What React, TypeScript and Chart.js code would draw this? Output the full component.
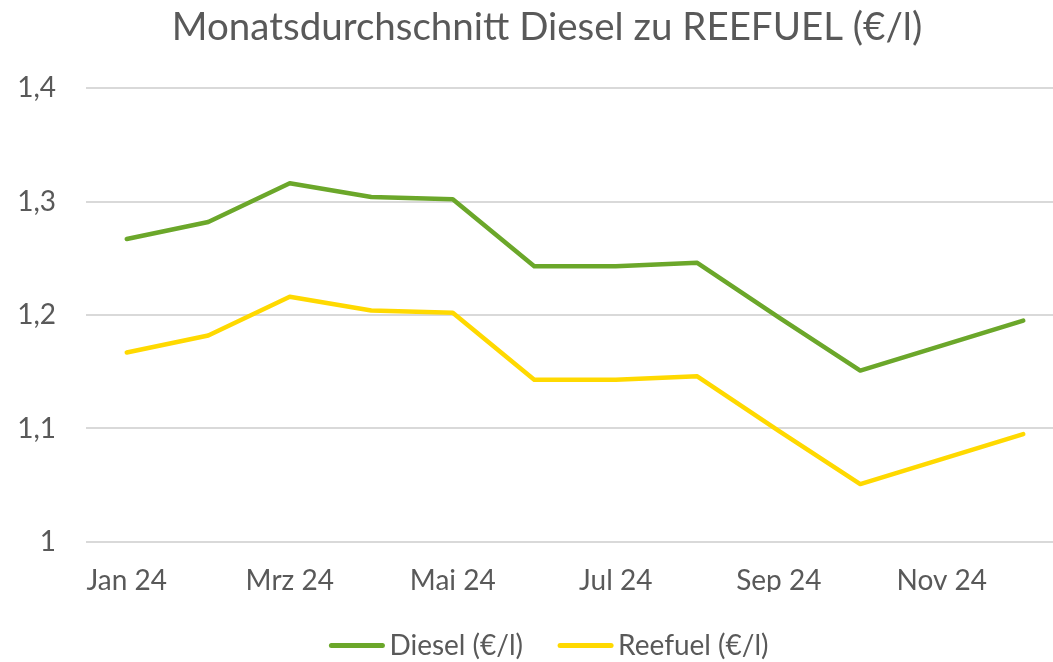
import React, { useEffect, useRef } from "react";
import { Chart, registerables } from "chart.js";

Chart.register(...registerables);

const chartTitle = "Monatsdurchschnitt Diesel zu REEFUEL (€/l)";
const months = ["Jan 24", "Feb 24", "Mrz 24", "Apr 24", "Mai 24", "Jun 24", "Jul 24", "Aug 24", "Sep 24", "Okt 24", "Nov 24", "Dez 24"];
const seriesNames = ["Diesel (€/l)", "Reefuel (€/l)"];
const dieselValues = [1.267, 1.282, 1.316, 1.304, 1.302, 1.243, 1.243, 1.246, 1.198, 1.151, 1.173, 1.195];
const reefuelValues = [1.167, 1.182, 1.216, 1.204, 1.202, 1.143, 1.143, 1.146, 1.098, 1.051, 1.073, 1.095];
const yMin = 1;
const yMax = 1.4;
const yStep = 0.1;

const W = 1092;
const H = 662;
const FONT = "Lato, 'Open Sans', sans-serif";
const TEXT = "#595959";

const titleLegendPlugin = {
  id: "titleLegend",
  afterDraw(chart: any) {
    const ctx = chart.ctx as CanvasRenderingContext2D;
    ctx.save();
    ctx.fillStyle = TEXT;
    ctx.font = `38.5px ${FONT}`;
    ctx.textAlign = "center";
    ctx.textBaseline = "alphabetic";
    ctx.fillText(chartTitle, 547, 39.5);

    // legend
    ctx.font = `28px ${FONT}`;
    const lineLen = 55;
    const gap = 5;
    const itemGap = 35;
    const items = chart.data.datasets.map((d: any) => ({
      label: d.label,
      color: d.borderColor,
      w: lineLen + gap + ctx.measureText(d.label).width,
    }));
    const total = items.reduce((s: number, it: any) => s + it.w, 0) + itemGap * (items.length - 1);
    let x = 549 - total / 2;
    const ly = 645.5;
    ctx.textAlign = "left";
    for (const it of items) {
      ctx.strokeStyle = it.color;
      ctx.lineWidth = 5;
      ctx.lineCap = "round";
      ctx.beginPath();
      ctx.moveTo(x + 2, ly);
      ctx.lineTo(x + lineLen - 2, ly);
      ctx.stroke();
      ctx.fillText(it.label, x + lineLen + gap, 655);
      x += it.w + itemGap;
    }
    ctx.restore();
  },
};

export default function App() {
  const ref = useRef<HTMLCanvasElement | null>(null);
  useEffect(() => {
    document.body.style.overflow = "hidden";
    const canvas = ref.current!;
    const chart = new Chart(canvas, {
      type: "line",
      data: {
        labels: months,
        datasets: [
          {
            label: seriesNames[0],
            data: dieselValues,
            borderColor: "#6BA72A",
            backgroundColor: "#6BA72A",
            borderWidth: 4.5,
            borderCapStyle: "round",
            borderJoinStyle: "round",
            pointRadius: 0,
            tension: 0,
          },
          {
            label: seriesNames[1],
            data: reefuelValues,
            borderColor: "#FFD900",
            backgroundColor: "#FFD900",
            borderWidth: 4.5,
            borderCapStyle: "round",
            borderJoinStyle: "round",
            pointRadius: 0,
            tension: 0,
          },
        ],
      },
      options: {
        responsive: false,
        animation: false,
        devicePixelRatio: 1,
        layout: { padding: { top: 88, right: 28, bottom: 70, left: 0 } },
        plugins: {
          legend: { display: false },
          title: { display: false },
          tooltip: { enabled: false },
        },
        scales: {
          x: {
            offset: true,
            grid: { display: false, drawTicks: false },
            border: { display: false },
            ticks: {
              autoSkip: false,
              maxRotation: 0,
              color: TEXT,
              font: { family: FONT, size: 28 },
              padding: 22,
              callback: (_v: any, i: number) => (i % 2 === 0 ? months[i] : ""),
            },
            afterFit: (s: any) => {
              s.height = 50;
            },
          },
          y: {
            min: yMin,
            max: yMax,
            grid: { color: "#D9D9D9", lineWidth: 2, drawTicks: false },
            border: { display: false },
            ticks: {
              stepSize: yStep,
              color: TEXT,
              font: { family: FONT, size: 28 },
              padding: 30,
              callback: (v: any) => String(Math.round(Number(v) * 10) / 10).replace(".", ","),
            },
            afterFit: (s: any) => {
              s.width = 86;
            },
          },
        },
      },
      plugins: [titleLegendPlugin],
    });
    return () => chart.destroy();
  }, []);
  return (
    <div style={{ position: "fixed", left: 0, top: 0, width: W, height: H, overflow: "hidden" }}>
      <canvas ref={ref} width={W} height={H} style={{ width: W, height: H, display: "block" }} />
    </div>
  );
}
